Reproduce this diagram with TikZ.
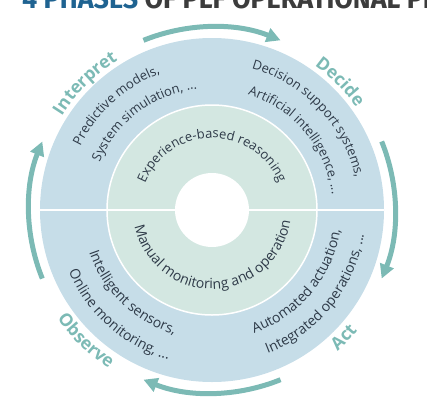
\documentclass[tikz,border=0pt]{standalone}
\usepackage{fontspec}
\setmainfont{Open Sans}
\newfontfamily\titlefont{Fira Sans}
\usetikzlibrary{arrows.meta, decorations.text}

\definecolor{ringblue}{HTML}{C6DDE8}
\definecolor{ringgreen}{HTML}{D3E7E1}
\definecolor{phaseteal}{HTML}{7CBAB5}
\definecolor{ringink}{HTML}{2E3A48}
\definecolor{titleblue}{HTML}{1F6391}
\definecolor{titlegrey}{HTML}{3C3C3C}

\newcommand\bodytop{\fontsize{13}{15}\selectfont\color{ringink}}
\newcommand\bodybot{\fontsize{14}{16}\selectfont\color{ringink}}
\newcommand\phasefont{\fontsize{17.5}{20}\selectfont\bfseries\color{phaseteal}}

% text on the upper half (read clockwise) and on the lower half (read anticlockwise)
\newcommand\toptext[4]{\path[decorate, decoration={text along path, text align=center, text={|#3|#4}}] (#1+90:#2) arc[start angle=#1+90, end angle=#1-90, radius=#2];}
\newcommand\bottext[4]{\path[decorate, decoration={text along path, text align=center, text={|#3|#4}}] (#1-90:#2) arc[start angle=#1-90, end angle=#1+90, radius=#2];}

\begin{document}
\begin{tikzpicture}[x=1pt, y=1pt,
  phasearrow/.style={draw=phaseteal, line width=5pt, -{Triangle[length=14pt, width=14pt]}}]
\useasboundingbox (-212,-195) rectangle (215,210);
\clip (-212,-195) rectangle (215,210);

% title, cut by the top edge
\node[anchor=base west, inner sep=0pt, xscale=0.96, text=titlegrey, font=\titlefont\bfseries\fontsize{28}{30}\selectfont] (title) at (-190,201) {\textcolor{titleblue}{4 PHASES} OF PLF OPERATIONAL PR};

% rings
\fill[ringblue] (0,0) circle (172);
\fill[ringgreen] (0,0) circle (105);
\draw[white, line width=1.5pt] (0,0) circle (105);
\draw[white, line width=1.5pt] (-172,0) -- (172,0);
\fill[white] (0,0) circle (37);

% arrows round the cycle
\draw[phasearrow] (112:183) arc[start angle=112, end angle=68, radius=183];
\draw[phasearrow] (22:183) arc[start angle=22, end angle=-22, radius=183];
\draw[phasearrow] (-68:183) arc[start angle=-68, end angle=-112, radius=183];
\draw[phasearrow] (202:183) arc[start angle=202, end angle=158, radius=183];

% phases
\toptext{135}{177}{\phasefont}{Interpret}
\toptext{45}{177}{\phasefont}{Decide}
\bottext{226}{189}{\phasefont}{Observe}
\bottext{316}{189}{\phasefont}{Act}

% outer ring
\toptext{132.5}{146}{\bodytop}{Predictive models,}
\toptext{127}{122}{\bodytop}{System simulation, ...}
\toptext{43.5}{147}{\bodytop}{Decision support systems,}
\toptext{40}{121}{\bodytop}{Artificial intelligence, ...}
\bottext{226}{130}{\bodybot}{Intelligent sensors,}
\bottext{228.5}{156}{\bodybot}{Online monitoring, ...}
\bottext{320}{130}{\bodybot}{Automated actuation,}
\bottext{321}{154}{\bodybot}{Integrated operations, ...}

% inner ring
\toptext{90}{72}{\bodytop}{Experience-based reasoning}
\bottext{272}{79}{\bodybot}{Manual monitoring and operation}
\end{tikzpicture}
\end{document}
